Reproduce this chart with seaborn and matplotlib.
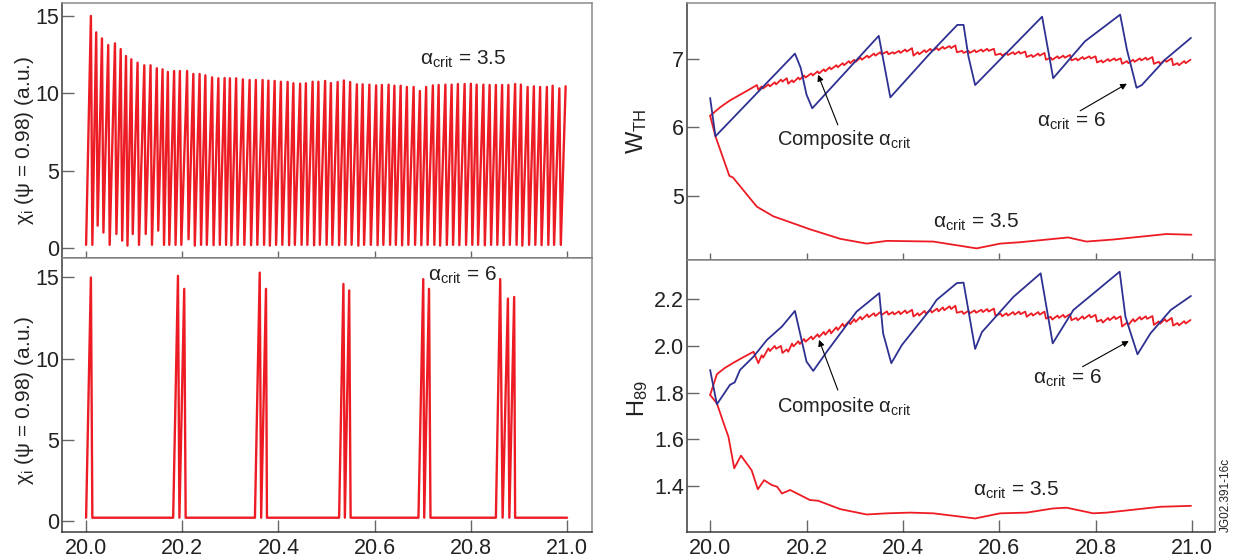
import matplotlib
matplotlib.use("Agg")
import matplotlib.pyplot as plt
from matplotlib.ticker import FormatStrFormatter
import seaborn as sns

# ---------------------------------------------------------------------------
# Data (time in s)
# ---------------------------------------------------------------------------

# chi_i spikes, alpha_crit = 3.5 : trough before each spike, then the spike peak
chi35_trough_t = [
    20.000, 20.013, 20.024, 20.036, 20.049, 20.063, 20.075, 20.086, 20.097, 20.110,
    20.124, 20.137, 20.150, 20.162, 20.173, 20.186, 20.198, 20.213, 20.226, 20.239,
    20.251, 20.265, 20.278, 20.291, 20.302, 20.315, 20.329, 20.343, 20.356, 20.370,
    20.382, 20.395, 20.408, 20.422, 20.434, 20.448, 20.460, 20.474, 20.486, 20.500,
    20.512, 20.526, 20.539, 20.552, 20.566, 20.578, 20.592, 20.606, 20.618, 20.632,
    20.644, 20.657, 20.670, 20.684, 20.697, 20.710, 20.724, 20.736, 20.750, 20.763,
    20.776, 20.790, 20.803, 20.815, 20.829, 20.842, 20.855, 20.868, 20.881, 20.895,
    20.907, 20.921, 20.934, 20.947, 20.961, 20.973, 20.987,
]
chi35_trough = [
    0.20, 0.20, 1.44, 0.99, 0.20, 0.90, 0.47, 0.15, 0.90, 0.20,
    0.90, 0.20, 1.12, 0.20, 0.20, 0.20, 0.20, 0.56, 0.15, 0.20,
    0.20, 0.18, 0.20, 0.20, 0.17, 0.20, 0.20, 0.18, 0.20, 0.20,
    0.15, 0.20, 0.20, 0.18, 0.20, 0.20, 0.20, 0.17, 0.20, 0.20,
    0.20, 0.18, 0.20, 0.20, 0.15, 0.20, 0.20, 0.18, 0.20, 0.20,
    0.20, 0.17, 0.20, 0.20, 0.18, 0.20, 0.20, 0.15, 0.20, 0.20,
    0.18, 0.20, 0.20, 0.20, 0.17, 0.20, 0.20, 0.18, 0.20, 0.20,
    0.15, 0.20, 0.20, 0.18, 0.20, 0.20, 0.20,
]
chi35_peak_t = [
    20.010, 20.021, 20.033, 20.046, 20.060, 20.072, 20.083, 20.094, 20.107, 20.121,
    20.134, 20.147, 20.159, 20.170, 20.183, 20.195, 20.210, 20.223, 20.236, 20.248,
    20.262, 20.275, 20.288, 20.299, 20.312, 20.326, 20.340, 20.353, 20.367, 20.379,
    20.392, 20.405, 20.419, 20.431, 20.445, 20.457, 20.471, 20.483, 20.497, 20.509,
    20.523, 20.536, 20.549, 20.563, 20.575, 20.589, 20.603, 20.615, 20.629, 20.641,
    20.654, 20.667, 20.681, 20.694, 20.707, 20.721, 20.733, 20.747, 20.760, 20.773,
    20.787, 20.800, 20.812, 20.826, 20.839, 20.852, 20.865, 20.878, 20.892, 20.904,
    20.918, 20.931, 20.944, 20.958, 20.970, 20.984, 20.997,
]
chi35_peak = [
    15.00, 13.94, 13.55, 13.12, 13.23, 12.86, 12.41, 12.20, 11.98, 11.81,
    11.81, 11.62, 11.55, 11.38, 11.44, 11.44, 11.44, 11.25, 11.25, 11.16,
    11.03, 10.97, 10.99, 10.97, 10.97, 10.90, 10.86, 10.86, 10.86, 10.82,
    10.80, 10.75, 10.74, 10.65, 10.62, 10.65, 10.75, 10.75, 10.80, 10.66,
    10.73, 10.83, 10.73, 10.58, 10.58, 10.56, 10.51, 10.54, 10.56, 10.49,
    10.49, 10.41, 10.41, 10.15, 10.41, 10.51, 10.54, 10.56, 10.56, 10.60,
    10.60, 10.62, 10.56, 10.56, 10.54, 10.54, 10.54, 10.54, 10.60, 10.56,
    10.41, 10.45, 10.41, 10.41, 10.49, 10.32, 10.45,
]

# chi_i, alpha_crit = 6
chi6_t = [20.000, 20.010, 20.013, 20.181, 20.191, 20.194, 20.204, 20.207,
          20.351, 20.361, 20.364, 20.374, 20.376, 20.526, 20.535, 20.538,
          20.547, 20.550, 20.691, 20.701, 20.703, 20.713, 20.716, 20.852,
          20.861, 20.866, 20.877, 20.880, 20.890, 20.892, 21.000]
chi6 = [0.2, 15.0, 0.2, 0.2, 15.1, 0.2, 14.3, 0.2,
        0.2, 15.3, 0.2, 14.3, 0.2, 0.2, 14.6, 0.2,
        14.2, 0.2, 0.2, 14.9, 0.2, 14.3, 0.2, 0.2,
        14.9, 0.2, 13.7, 0.2, 13.8, 0.2, 0.2]

# W_TH
wth6_t = [20.000, 20.011, 20.176, 20.188, 20.200, 20.212, 20.281, 20.350, 20.374,
          20.456, 20.513, 20.526, 20.536, 20.550, 20.689, 20.712, 20.778, 20.851,
          20.865, 20.885, 20.896, 20.944, 20.998]
wth6 = [6.43, 5.87, 7.08, 6.87, 6.48, 6.28, 6.81, 7.34, 6.44,
        7.08, 7.50, 7.50, 7.04, 6.62, 7.62, 6.72, 7.26, 7.65,
        7.14, 6.58, 6.62, 6.99, 7.31]

wth35_t = [20.000, 20.011, 20.040, 20.047, 20.097, 20.131, 20.207, 20.270, 20.325,
           20.367, 20.463, 20.553, 20.602, 20.643, 20.743, 20.781, 20.837, 20.947,
           20.999]
wth35 = [6.17, 5.87, 5.29, 5.27, 4.84, 4.70, 4.51, 4.37, 4.30,
         4.34, 4.33, 4.23, 4.30, 4.32, 4.39, 4.33, 4.36, 4.44,
         4.43]

# composite alpha_crit: smooth start, then ripple (top before each ELM, low after)
wthc_start_t = [20.000, 20.020, 20.040, 20.060, 20.080, 20.097, 20.100]
wthc_start = [6.17, 6.29, 6.39, 6.47, 6.55, 6.62, 6.55]
wthc_top = [
    6.60, 6.63, 6.66, 6.70, 6.72, 6.69, 6.73, 6.76, 6.79, 6.82,
    6.85, 6.88, 6.91, 6.94, 6.97, 6.99, 7.02, 7.05, 7.08, 7.10,
    7.11, 7.10, 7.12, 7.14, 7.16, 7.10, 7.13, 7.15, 7.16, 7.18,
    7.19, 7.20, 7.12, 7.12, 7.13, 7.14, 7.15, 7.15, 7.08, 7.09,
    7.10, 7.11, 7.11, 7.06, 7.08, 7.09, 7.02, 7.04, 7.05, 7.06,
    7.01, 7.03, 7.04, 7.04, 6.98, 7.00, 7.01, 7.01, 6.97, 6.99,
    7.01, 7.02, 7.03, 6.96, 6.99, 7.01, 6.94, 6.97, 6.99,
]
wthc_low = [
    6.57, 6.60, 6.63, 6.67, 6.64, 6.66, 6.70, 6.73, 6.76, 6.79,
    6.82, 6.85, 6.88, 6.91, 6.94, 6.96, 6.99, 7.02, 7.05, 7.07,
    7.07, 7.08, 7.09, 7.11, 7.05, 7.07, 7.10, 7.12, 7.13, 7.15,
    7.16, 7.10, 7.09, 7.09, 7.10, 7.11, 7.12, 7.06, 7.05, 7.06,
    7.07, 7.08, 7.03, 7.03, 7.05, 6.99, 6.99, 7.01, 7.02, 6.98,
    6.98, 7.00, 7.01, 6.95, 6.95, 6.97, 6.98, 6.93, 6.94, 6.96,
    6.98, 6.99, 6.93, 6.93, 6.96, 6.91, 6.91, 6.94,
]

# H_89
h6_t = [20.000, 20.014, 20.041, 20.051, 20.062, 20.090, 20.118, 20.149, 20.176,
        20.200, 20.214, 20.242, 20.304, 20.351, 20.359, 20.376, 20.398, 20.456,
        20.470, 20.512, 20.526, 20.550, 20.564, 20.630, 20.686, 20.711, 20.754,
        20.850, 20.862, 20.887, 20.914, 20.956, 20.998]
h6 = [1.897, 1.750, 1.833, 1.844, 1.897, 1.954, 2.026, 2.083, 2.150,
      1.933, 1.893, 1.975, 2.147, 2.226, 2.054, 1.926, 2.004, 2.154,
      2.197, 2.269, 2.271, 1.987, 2.059, 2.211, 2.311, 2.011, 2.154,
      2.318, 2.125, 1.964, 2.054, 2.154, 2.214]

h35_t = [20.000, 20.014, 20.028, 20.038, 20.050, 20.064, 20.086, 20.099, 20.112,
         20.128, 20.139, 20.149, 20.166, 20.207, 20.224, 20.270, 20.325, 20.367,
         20.415, 20.463, 20.550, 20.602, 20.657, 20.712, 20.740, 20.795, 20.823,
         20.934, 20.998]
h35 = [1.790, 1.754, 1.669, 1.611, 1.476, 1.530, 1.468, 1.386, 1.425,
       1.404, 1.397, 1.368, 1.383, 1.340, 1.337, 1.301, 1.278, 1.283,
       1.286, 1.283, 1.261, 1.283, 1.286, 1.304, 1.307, 1.283, 1.286,
       1.311, 1.315]

hc_start_t = [20.000, 20.014, 20.030, 20.050, 20.070, 20.090, 20.100]
hc_start = [1.790, 1.879, 1.905, 1.930, 1.953, 1.975, 1.926]
hc_top = [
    1.960, 1.990, 2.000, 2.000, 1.985, 2.010, 2.020, 2.030, 2.040, 2.050,
    2.060, 2.070, 2.080, 2.095, 2.105, 2.115, 2.125, 2.135, 2.140, 2.145,
    2.148, 2.145, 2.148, 2.152, 2.155, 2.140, 2.150, 2.155, 2.160, 2.165,
    2.170, 2.172, 2.148, 2.150, 2.152, 2.155, 2.158, 2.160, 2.138, 2.140,
    2.145, 2.147, 2.147, 2.140, 2.145, 2.147, 2.125, 2.130, 2.133, 2.136,
    2.120, 2.127, 2.133, 2.133, 2.112, 2.120, 2.126, 2.127, 2.100, 2.115,
    2.124, 2.127, 2.128, 2.105, 2.115, 2.120, 2.098, 2.106, 2.111,
]
hc_low = [
    1.950, 1.978, 1.988, 1.970, 1.975, 1.998, 2.008, 2.018, 2.028, 2.038,
    2.048, 2.054, 2.068, 2.083, 2.093, 2.103, 2.113, 2.123, 2.128, 2.133,
    2.134, 2.135, 2.136, 2.140, 2.126, 2.130, 2.138, 2.143, 2.148, 2.153,
    2.158, 2.142, 2.137, 2.140, 2.142, 2.145, 2.147, 2.130, 2.127, 2.130,
    2.134, 2.136, 2.125, 2.130, 2.134, 2.117, 2.113, 2.120, 2.122, 2.110,
    2.110, 2.116, 2.122, 2.104, 2.100, 2.110, 2.115, 2.083, 2.090, 2.104,
    2.113, 2.116, 2.090, 2.095, 2.104, 2.087, 2.088, 2.096,
]

x_ticks = [20.0, 20.2, 20.4, 20.6, 20.8, 21.0]
chi_ticks = [0, 5, 10, 15]
wth_ticks = [5, 6, 7]
h_ticks = [1.4, 1.6, 1.8, 2.0, 2.2]

RED = "#ED1C24"
BLUE = "#2E3192"
TEXT = "#222222"


def interleave(low_t, low_v, top_t, top_v):
    """Merge 'after-crash' and 'before-crash' points into one path."""
    t, v = [], []
    for i in range(len(top_t)):
        if i < len(low_t):
            t.append(low_t[i])
            v.append(low_v[i])
        t.append(top_t[i])
        v.append(top_v[i])
    return t, v


def composite(start_t, start_v, top_v, low_v):
    """Composite curve: smooth start plus ELM ripple on the chi35 crash times."""
    tops_t = chi35_peak_t[8:]
    lows_t = chi35_trough_t[9:]
    t, v = list(start_t), list(start_v)
    for j in range(len(top_v)):
        t.append(tops_t[j])
        v.append(top_v[j])
        if j < len(low_v):
            t.append(lows_t[j])
            v.append(low_v[j])
    return t, v


def draw(ax, t, v, color, lw):
    sns.lineplot(x=t, y=v, ax=ax, color=color, linewidth=lw,
                 estimator=None, sort=False)


def style_axes(ax, xlen):
    for side in ["left", "bottom"]:
        ax.spines[side].set_color("#3a3a3a")
        ax.spines[side].set_linewidth(1.1)
    for side in ["top", "right"]:
        ax.spines[side].set_color("#8a8a8a")
        ax.spines[side].set_linewidth(1.1)
    # all ticks point into the frame, as in the reference
    ax.tick_params(axis="y", direction="in", length=8.5, width=1.0,
                   color="#666666", labelsize=15.5, labelcolor=TEXT, pad=2)
    ax.tick_params(axis="x", direction="in", length=xlen, width=1.0,
                   color="#666666", labelsize=15.5, labelcolor=TEXT, pad=4)
    ax.set_xlabel("")


def label(ax, x, y, text, size=15):
    ax.text(x, y, text, fontsize=size, ha="left", va="baseline", color=TEXT)


def arrow(ax, tail, head):
    ax.annotate("", xy=head, xytext=tail,
                arrowprops=dict(arrowstyle="-|>", color="black", lw=0.8,
                                mutation_scale=9, shrinkA=0, shrinkB=0))


sns.set_style("ticks")
plt.rcParams["font.family"] = ["Liberation Sans", "DejaVu Sans"]
plt.rcParams["mathtext.fontset"] = "custom"
plt.rcParams["mathtext.rm"] = "Liberation Sans"
plt.rcParams["mathtext.it"] = "Liberation Sans:italic"
plt.rcParams["mathtext.default"] = "regular"

fig = plt.figure(figsize=(12.41, 5.60), dpi=100)
ax_tl = fig.add_axes([0.0500, 0.5393, 0.4271, 0.4554])
ax_bl = fig.add_axes([0.0500, 0.0500, 0.4271, 0.4893])
ax_tr = fig.add_axes([0.5536, 0.5357, 0.4255, 0.4589])
ax_br = fig.add_axes([0.5536, 0.0500, 0.4255, 0.4857])

ACRIT = r"$\alpha_{crit}$"

# --- left: chi_i ---
t, v = interleave(chi35_trough_t, chi35_trough, chi35_peak_t, chi35_peak)
draw(ax_tl, t, v, RED, 1.7)
draw(ax_bl, chi6_t, chi6, RED, 1.7)

chi_label = r"$\chi_i$ ($\psi$ = 0.98) (a.u.)"
for ax, ylim, xlen in [(ax_tl, (-0.65, 15.84), 5), (ax_bl, (-0.68, 16.2), 8.5)]:
    ax.set_xlim(19.95, 21.052)
    ax.set_ylim(*ylim)
    ax.set_xticks(x_ticks)
    ax.set_yticks(chi_ticks)
    style_axes(ax, xlen)
    ax.set_ylabel(chi_label, fontsize=15, color=TEXT)
ax_tl.yaxis.set_label_coords(-0.049, 0.46)
ax_bl.yaxis.set_label_coords(-0.049, 0.48)
ax_tl.tick_params(axis="x", labelbottom=False)
ax_bl.xaxis.set_major_formatter(FormatStrFormatter("%.1f"))

label(ax_tl, 20.694, 11.83, ACRIT + " = 3.5")
label(ax_bl, 20.711, 14.8, ACRIT + " = 6")

# --- right top: W_TH ---
draw(ax_tr, wth35_t, wth35, RED, 1.3)
t, v = composite(wthc_start_t, wthc_start, wthc_top, wthc_low)
draw(ax_tr, t, v, RED, 1.3)
draw(ax_tr, wth6_t, wth6, BLUE, 1.3)

ax_tr.set_xlim(19.952, 21.048)
ax_tr.set_ylim(4.06, 7.82)
ax_tr.set_xticks(x_ticks)
ax_tr.set_yticks(wth_ticks)
style_axes(ax_tr, 5)
ax_tr.tick_params(axis="x", labelbottom=False)
ax_tr.set_ylabel(r"$W_{TH}$", fontsize=17, color=TEXT)
ax_tr.yaxis.set_label_coords(-0.072, 0.5)

label(ax_tr, 20.139, 5.745, "Composite " + ACRIT, size=14.5)
arrow(ax_tr, (20.265, 6.038), (20.224, 6.77))
label(ax_tr, 20.678, 6.009, ACRIT + " = 6")
arrow(ax_tr, (20.768, 6.243), (20.865, 6.64))
label(ax_tr, 20.463, 4.53, ACRIT + " = 3.5")

# --- right bottom: H_89 ---
draw(ax_br, h35_t, h35, RED, 1.3)
t, v = composite(hc_start_t, hc_start, hc_top, hc_low)
draw(ax_br, t, v, RED, 1.3)
draw(ax_br, h6_t, h6, BLUE, 1.3)

ax_br.set_xlim(19.952, 21.048)
ax_br.set_ylim(1.203, 2.368)
ax_br.set_xticks(x_ticks)
ax_br.set_yticks(h_ticks)
style_axes(ax_br, 8.5)
ax_br.xaxis.set_major_formatter(FormatStrFormatter("%.1f"))
ax_br.yaxis.set_major_formatter(FormatStrFormatter("%.1f"))
ax_br.set_ylabel(r"$H_{89}$", fontsize=17, color=TEXT)
ax_br.yaxis.set_label_coords(-0.070, 0.49)

label(ax_br, 20.139, 1.718, "Composite " + ACRIT, size=14.5)
arrow(ax_br, (20.265, 1.811), (20.226, 2.026))
label(ax_br, 20.670, 1.84, ACRIT + " = 6")
arrow(ax_br, (20.773, 1.911), (20.869, 2.021))
label(ax_br, 20.545, 1.358, ACRIT + " = 3.5")

fig.text(1226 / 1241, 0.117, "JG02.391-16c", rotation=90, fontsize=8.5,
         ha="center", va="center", color=TEXT)

fig.savefig("out.png", dpi=100)
plt.close(fig)
